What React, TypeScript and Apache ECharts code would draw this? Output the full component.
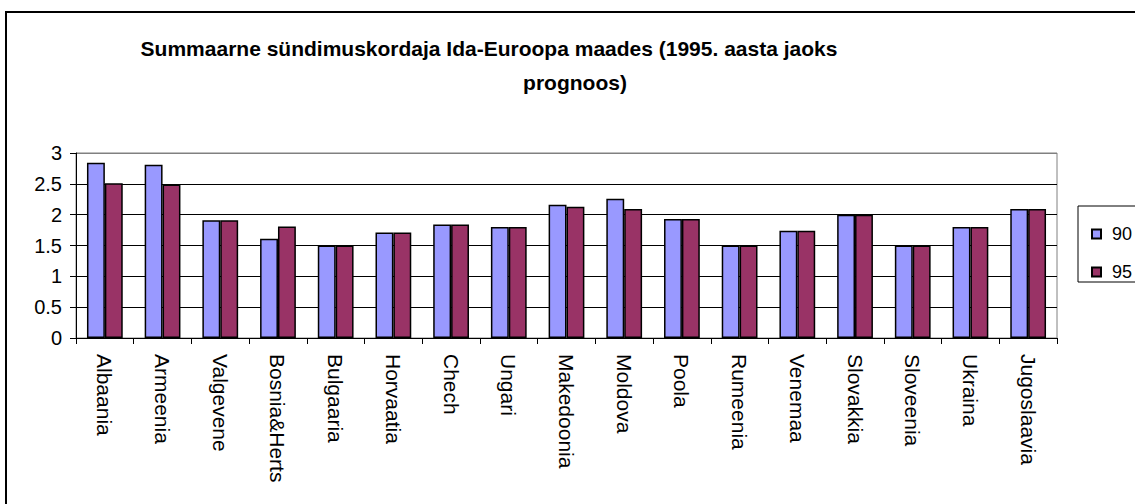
import React, { useEffect, useRef } from "react";
import * as echarts from "echarts";

const categories = [
  "Albaania", "Armeenia", "Valgevene", "Bosnia&Herts", "Bulgaaria", "Horvaatia",
  "Chech", "Ungari", "Makedoonia", "Moldova", "Poola", "Rumeenia", "Venemaa",
  "Slovakkia", "Sloveenia", "Ukraina", "Jugoslaavia",
];
const values90 = [2.84, 2.81, 1.91, 1.61, 1.5, 1.71, 1.84, 1.8, 2.16, 2.26, 1.93, 1.5, 1.74, 2.0, 1.5, 1.8, 2.09];
const values95 = [2.51, 2.49, 1.91, 1.81, 1.5, 1.71, 1.84, 1.8, 2.13, 2.09, 1.93, 1.5, 1.74, 2.0, 1.5, 1.8, 2.09];
const seriesNames = ["90", "95"];
const titleLine1 = "Summaarne sündimuskordaja Ida-Euroopa maades (1995. aasta jaoks";
const titleLine2 = "prognoos)";

const FONT = "Arial, 'Liberation Sans', sans-serif";

export default function App() {
  const ref = useRef<HTMLDivElement>(null);
  useEffect(() => {
    if (!ref.current) return;
    const chart = echarts.init(ref.current, undefined, { renderer: "svg" });
    chart.setOption({
      animation: false,
      backgroundColor: "#ffffff",
      textStyle: { fontFamily: FONT },
      grid: {
        left: 76,
        right: 78,
        top: 153,
        bottom: 166,
        show: true,
        borderColor: "#808080",
        borderWidth: 1,
        backgroundColor: "transparent",
        containLabel: false,
      },
      legend: {
        orient: "vertical",
        left: 1086,
        top: 220,
        itemWidth: 9,
        itemHeight: 9,
        itemGap: 20,
        icon: "rect",
        data: seriesNames,
        textStyle: { fontSize: 18, color: "#000", fontFamily: FONT, padding: [0, 0, 0, 6] },
        selectedMode: false,
      },
      xAxis: {
        type: "category",
        data: categories,
        axisLine: { lineStyle: { color: "#000", width: 1 } },
        axisTick: { show: true, length: 6, lineStyle: { color: "#000" } },
        axisLabel: {
          rotate: -90,
          fontSize: 21,
          color: "#000",
          margin: 16,
          fontFamily: FONT,
          interval: 0,
        },
      },
      yAxis: {
        type: "value",
        min: 0,
        max: 3,
        interval: 0.5,
        axisLine: { show: true, lineStyle: { color: "#000", width: 1 } },
        axisTick: { show: true, length: 6, lineStyle: { color: "#000" } },
        axisLabel: { fontSize: 20, color: "#000", margin: 14, fontFamily: FONT },
        splitLine: {
          show: true,
          lineStyle: {
            color: ["#000", "#000", "#000", "#000", "#000", "#000", "#808080"],
            width: 1,
          },
        },
      },
      series: [
        {
          name: seriesNames[0],
          type: "bar",
          data: values90,
          barGap: "0%",
          barCategoryGap: "38%",
          itemStyle: { color: "#9999FF", borderColor: "#000", borderWidth: 1.5 },
        },
        {
          name: seriesNames[1],
          type: "bar",
          data: values95,
          barGap: "0%",
          barCategoryGap: "38%",
          itemStyle: { color: "#993366", borderColor: "#000", borderWidth: 1.5 },
        },
      ],
      graphic: [
        {
          type: "rect",
          shape: { x: 6, y: 12, width: 1140, height: 500 },
          style: { fill: "none", stroke: "#000", lineWidth: 2 },
          silent: true,
        },
        {
          type: "rect",
          shape: { x: 1078, y: 206, width: 80, height: 76 },
          style: { fill: "none", stroke: "#000", lineWidth: 1 },
          silent: true,
        },
        {
          type: "text",
          x: 489,
          y: 48,
          style: {
            text: titleLine1,
            font: "bold 21px " + FONT,
            fill: "#000",
            textAlign: "center",
            textVerticalAlign: "middle",
          },
        },
        {
          type: "text",
          x: 575,
          y: 82,
          style: {
            text: titleLine2,
            font: "bold 21px " + FONT,
            fill: "#000",
            textAlign: "center",
            textVerticalAlign: "middle",
          },
        },
      ],
    });
    return () => chart.dispose();
  }, []);
  return (
    <div
      ref={ref}
      style={{ position: "absolute", left: 0, top: 0, width: 1135, height: 504 }}
    />
  );
}
